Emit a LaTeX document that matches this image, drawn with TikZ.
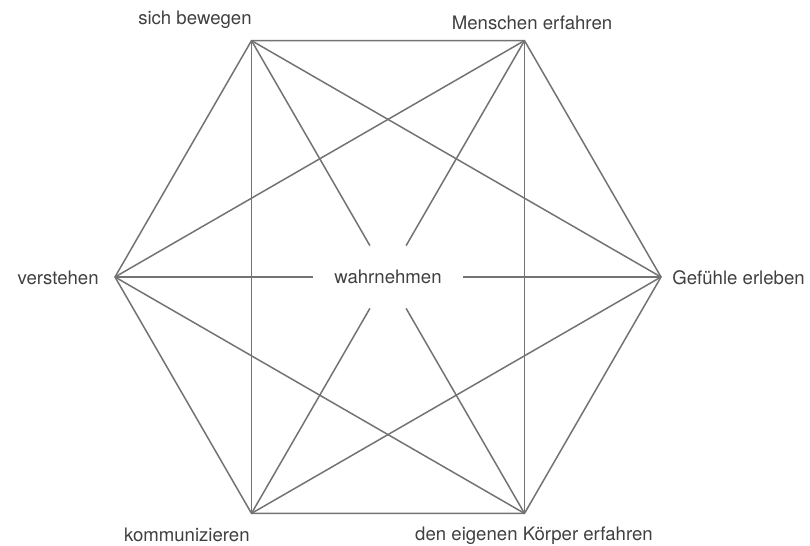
\documentclass[tikz,border=0pt]{standalone}
\usepackage{fontspec}
\setmainfont{TeX Gyre Heros}
\usetikzlibrary{positioning}

\begin{document}
\begin{tikzpicture}[x=0.5pt, y=-0.5pt,
  edge/.style={draw=black!55, line width=0.75pt},
  lbl/.style={font=\fontsize{9.3}{11}\selectfont, text=black!75, inner sep=0pt}]
  \useasboundingbox (0,0) rectangle (810,546);
  % corners of the hexagon
  \coordinate (bew) at (251.5,40.6);
  \coordinate (men) at (524.5,40.6);
  \coordinate (gef) at (661,277);
  \coordinate (koe) at (524.5,513.4);
  \coordinate (kom) at (251.5,513.4);
  \coordinate (ver) at (115,277);
  % centre
  \node[lbl, minimum width=75pt, minimum height=31pt] (wahr) at (388,277) {wahrnehmen};
  % labels
  \node[lbl, anchor=base east] (tbew) at (252,25) {sich bewegen};
  \node[lbl, anchor=base] (tmen) at (532,30) {Menschen erfahren};
  \node[lbl, anchor=base west] (tgef) at (672,284) {Gefühle erleben};
  \node[lbl, anchor=base] (tkoe) at (534,540) {den eigenen Körper erfahren};
  \node[lbl, anchor=base east] (tkom) at (250,541) {kommunizieren};
  \node[lbl, anchor=base east] (tver) at (99,284) {verstehen};
  % sides
  \draw[edge] (bew) -- (men) -- (gef) -- (koe) -- (kom) -- (ver) -- cycle;
  % short diagonals
  \draw[edge] (bew) -- (gef);
  \draw[edge] (bew) -- (kom);
  \draw[edge] (men) -- (ver);
  \draw[edge] (men) -- (koe);
  \draw[edge] (gef) -- (kom);
  \draw[edge] (koe) -- (ver);
  % spokes to the centre
  \draw[edge] (bew) -- (wahr);
  \draw[edge] (men) -- (wahr);
  \draw[edge] (gef) -- (wahr);
  \draw[edge] (koe) -- (wahr);
  \draw[edge] (kom) -- (wahr);
  \draw[edge] (ver) -- (wahr);
\end{tikzpicture}
\end{document}
